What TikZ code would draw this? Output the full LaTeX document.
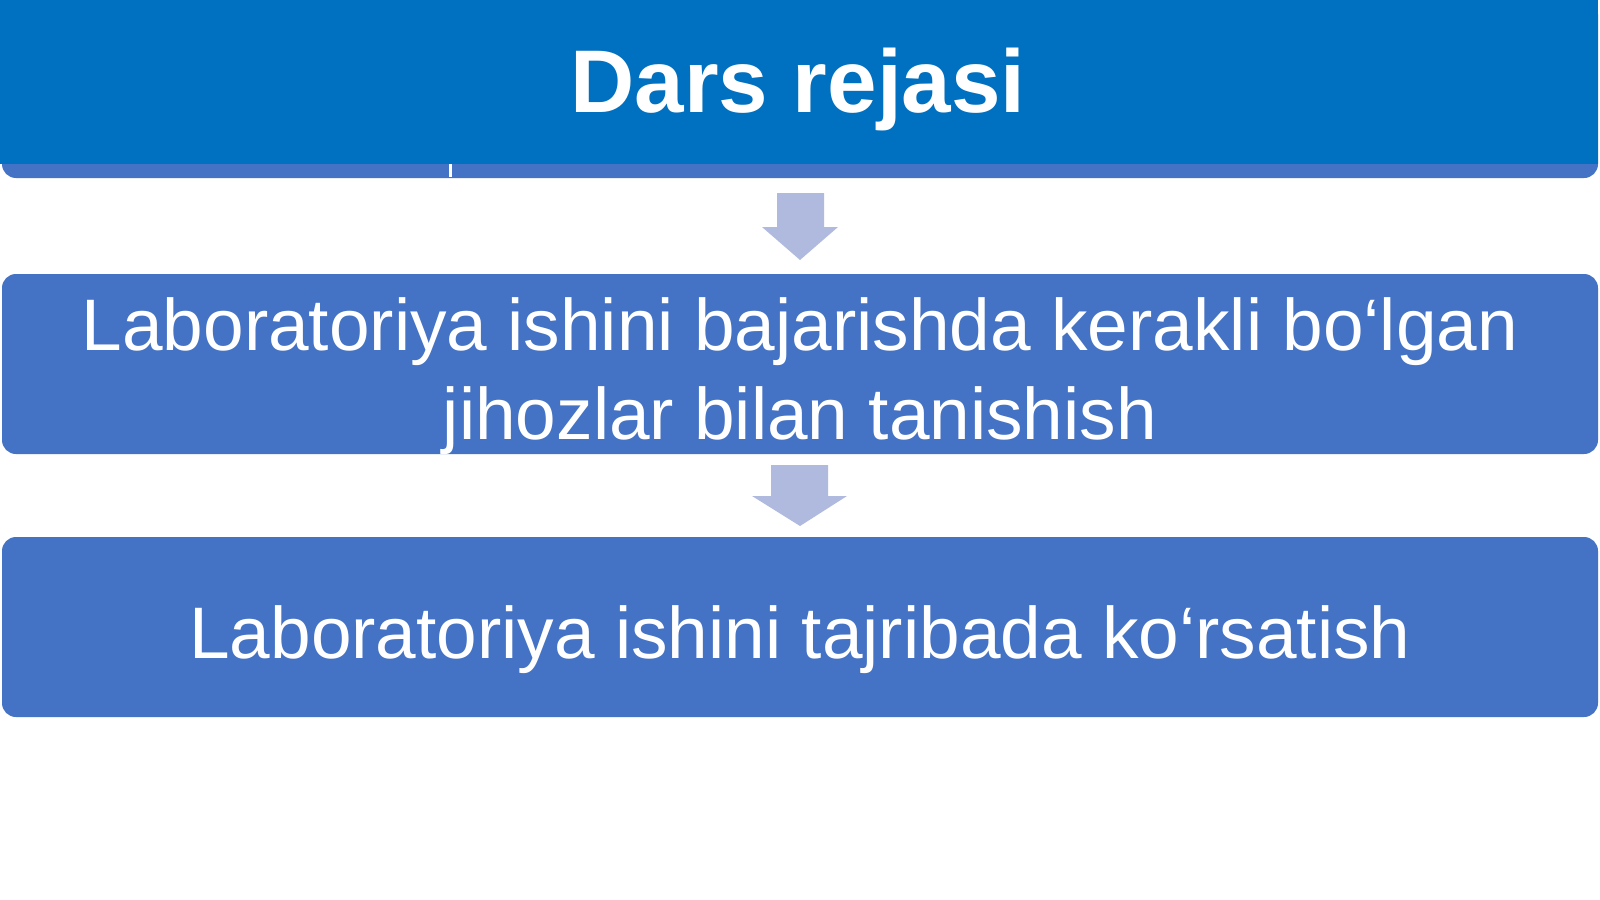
\documentclass[tikz,border=0pt]{standalone}
\usepackage{fontspec}
\setmainfont{Liberation Sans}
\definecolor{boxblue}{HTML}{4472C4}
\definecolor{topblue}{HTML}{0070C0}
\definecolor{arrowc}{HTML}{B0BADF}
\tikzset{
  stepbox/.style={fill=boxblue, rounded corners=14pt, inner sep=0pt, minimum width=1596pt},
  boxtext/.style={text=white, align=center, inner sep=0pt, anchor=base, font=\fontsize{73}{89}\selectfont},
  titletext/.style={text=white, inner sep=0pt, anchor=base, font=\fontsize{89}{100}\selectfont\bfseries},
  blockarrow/.style={fill=arrowc}
}
\begin{document}
\begin{tikzpicture}[x=1pt,y=-1pt]
\useasboundingbox (0,0) rectangle (1600,899);
\fill[white] (0,0) rectangle (1600,899);
% title bar
\node[stepbox, minimum height=178pt] (b1) at (800,89) {};
\fill[topblue] (0,0) rectangle (1598,164);
\fill[white] (449,164) rectangle (452,177);
\node[titletext] (t1) at (798,112) {Dars rejasi};
% box 2
\node[stepbox, minimum height=180pt] (b2) at (800,364) {};
\node[boxtext] (t2) at (800,439) {Laboratoriya ishini bajarishda kerakli bo‘lgan\\jihozlar bilan tanishish};
% box 3
\node[stepbox, minimum height=180pt] (b3) at (800,627) {};
\node[boxtext] (t3) at (800,658) {Laboratoriya ishini tajribada ko‘rsatish};
% arrows
\fill[blockarrow] (777,193) -- (824,193) -- (824,227) -- (838,227) -- (800,260) -- (762,227) -- (777,227) -- cycle;
\fill[blockarrow] (771,465) -- (828,465) -- (828,496) -- (847,496) -- (800,526) -- (752,496) -- (771,496) -- cycle;
\end{tikzpicture}
\end{document}
